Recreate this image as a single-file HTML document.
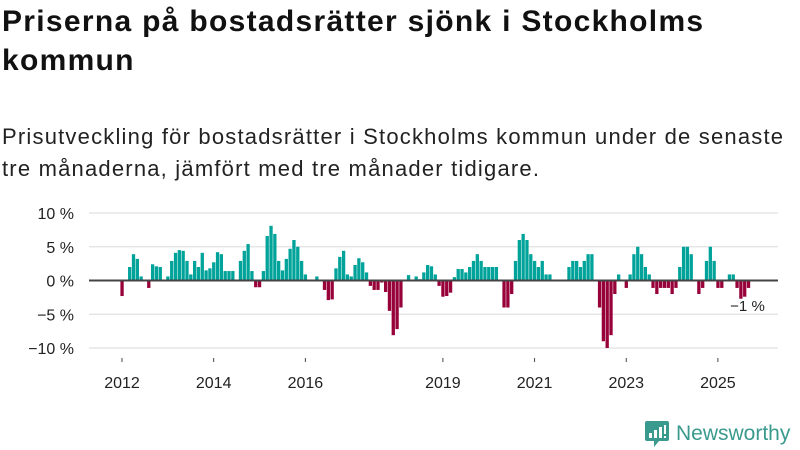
<!DOCTYPE html>
<html><head><meta charset="utf-8">
<style>
body{margin:0;width:800px;height:450px;background:#fff;overflow:hidden;font-family:"Liberation Sans",sans-serif;color:#111}
#title{position:absolute;left:2px;top:2px;font-size:30px;font-weight:bold;line-height:39px;width:740px;letter-spacing:1.3px}
#sub{position:absolute;left:2px;top:121px;font-size:22px;line-height:32px;color:#222;width:790px;letter-spacing:1.2px}
#chart{position:absolute;left:0;top:0}
#logo{position:absolute;left:644px;top:420px;display:flex;align-items:center}
</style></head><body>
<div id="title">Priserna på bostadsrätter sjönk i Stockholms kommun</div>
<div id="sub">Prisutveckling för bostadsrätter i Stockholms kommun under de senaste tre månaderna, jämfört med tre månader tidigare.</div>
<svg id="chart" width="800" height="450"></svg>
<div id="logo">
<svg width="26" height="28" viewBox="0 0 26 28"><path d="M3 1h20a2 2 0 0 1 2 2v16a2 2 0 0 1-2 2H15l-5 6v-6H3a2 2 0 0 1-2-2V3a2 2 0 0 1 2-2z" fill="#3a9a8e"/><rect x="5" y="13" width="3" height="5" fill="#fff"/><rect x="10" y="10" width="3" height="8" fill="#fff"/><rect x="15" y="7" width="3" height="11" fill="#fff"/><rect x="20" y="5" width="2" height="9" fill="#fff"/><rect x="20" y="16" width="2" height="2" fill="#fff"/></svg>
<span style="font-size:21px;color:#3a9a8e;margin-left:6px;font-weight:500">Newsworthy</span>
</div>
<script>
const startYear = 2012;
const values = [
-2.3,0,2.0,3.9,3.2,0.6,0,-1.1,2.4,2.1,2.0,0,
0.6,2.9,4.1,4.5,4.4,2.9,0.9,2.9,2.0,4.1,1.5,1.8,
2.7,4.2,3.9,1.4,1.4,1.4,0,2.9,4.4,5.4,1.4,-1.0,
-1.0,1.4,6.6,8.1,6.9,2.9,1.5,3.2,4.7,6.0,5.0,2.9,
0.9,0,0,0.6,0,-1.4,-2.9,-2.8,1.8,3.5,4.4,0.9,
0.6,2.3,3.3,2.7,1.2,-0.8,-1.4,-1.4,-0.3,-1.7,-4.5,-8.1,
-7.2,-4.0,0,0.8,0,0.6,0.2,1.2,2.3,2.1,0.9,-0.8,
-2.4,-2.3,-1.8,0.5,1.7,1.7,1.2,2.0,2.9,3.9,2.9,2.0,
2.0,2.0,2.0,0,-4.0,-4.0,-2.0,2.9,6.0,6.9,6.0,3.9,
2.9,2.0,2.9,0.9,0.9,0,0,0,0,2.0,2.9,2.9,
2.0,2.9,3.9,3.9,0,-4.0,-9.0,-10.0,-8.1,-2.0,0.9,0,
-1.1,0.9,3.9,5.0,3.9,2.0,0.9,-1.1,-2.0,-1.1,-1.1,-1.1,
-2.0,-1.1,2.0,5.0,5.0,3.9,0,-2.0,-1.1,2.9,5.0,2.9,
-1.1,-1.1,0,0.9,0.9,-1.1,-2.7,-2.4,-1.1
];
const yTicks = [10,5,0,-5,-10];
const yTickLabels = ["10 %","5 %","0 %","\u22125 %","\u221210 %"];
const xTickYears = [2012,2014,2016,2019,2021,2023,2025];
const lastLabel = "\u22121 %";

const svg = document.getElementById('chart');
const NS = 'http://www.w3.org/2000/svg';
const y = v => 280.5 - v * 6.75;
const x = i => 122 + i * 3.82;
function mk(t, a){const e=document.createElementNS(NS,t);for(const k in a)e.setAttribute(k,a[k]);svg.appendChild(e);return e;}
yTicks.forEach((t,k)=>{
  if(t!==0){const g=mk('line',{x1:89,x2:778,y1:y(t),y2:y(t),stroke:'#e0e0e0','stroke-width':1.2});
  
  }
  const l=mk('text',{x:74,y:y(t)+6,'text-anchor':'end','font-size':16,fill:'#222'});
  l.textContent=yTickLabels[k];
  
  
});
values.forEach((v,i)=>{
  if(v===0)return;
  const r=mk('rect',{x:x(i)-1.6,width:3.3,y:Math.min(y(v),y(0)),height:Math.abs(y(v)-y(0)),fill:v>0?'#00a39a':'#970038'});
  
  
});
const z=mk('line',{x1:89,x2:778,y1:y(0),y2:y(0),stroke:'#444','stroke-width':2});


xTickYears.forEach(yr=>{
  const xi=x((yr-startYear)*12);
  const t=mk('line',{x1:xi,x2:xi,y1:358,y2:362,stroke:'#444','stroke-width':1});
  
  
  const l=mk('text',{x:xi,y:388,'text-anchor':'middle','font-size':16,fill:'#222'});
  l.textContent=yr;
  
  
});
const li=values.length-1;
const a=mk('text',{x:x(li)-1,y:311,'text-anchor':'middle','font-size':15,fill:'#222',stroke:'#fff','stroke-width':3,'paint-order':'stroke'});
a.textContent=lastLabel;


</script>
</body></html>
